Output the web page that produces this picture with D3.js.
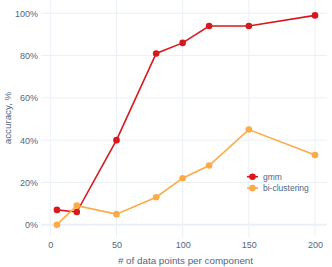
<!DOCTYPE html>
<html><head><meta charset="utf-8">
<script src="https://cdn.jsdelivr.net/npm/d3@7"></script>
<style>body{margin:0;background:#fff}svg{display:block}text{font-family:"Liberation Sans",Arial,sans-serif}</style>
</head><body><div id="c"></div>
<script>
const xValues = [5, 20, 50, 80, 100, 120, 150, 200];
const gmm = [7, 6, 40, 81, 86, 94, 94, 99];
const biClustering = [0, 9, 5, 13, 22, 28, 45, 33];
const seriesNames = ["gmm", "bi-clustering"];
const xTicks = [0, 50, 100, 150, 200];
const yTicks = [0, 20, 40, 60, 80, 100];

(function () {
const W = 332, H = 267;
const pLeft = 41, pRight = 327, pTop = 0, pBottom = 237;
const font = '"Liberation Sans",Arial,sans-serif';
const svg = d3.select("#c").append("svg").attr("width", W).attr("height", H);
const x = d3.scaleLinear().domain([0, 200]).range([50.3, 315]);
const y = d3.scaleLinear().domain([0, 100]).range([224.7, 13.3]);
const grid = "#ebf0f8", txt = "#506784";

svg.append("g").selectAll("line").data(xTicks).join("line")
  .attr("x1", d => x(d)).attr("x2", d => x(d)).attr("y1", pTop).attr("y2", pBottom)
  .attr("stroke", grid).attr("stroke-width", 1);
svg.append("g").selectAll("line").data(yTicks).join("line")
  .attr("x1", pLeft).attr("x2", pRight).attr("y1", d => y(d)).attr("y2", d => y(d))
  .attr("stroke", grid).attr("stroke-width", d => d === 0 ? 2 : 1);

const yAxis = svg.append("g").attr("transform", `translate(${pLeft - 1},0)`)
  .call(d3.axisLeft(y).tickValues(yTicks).tickSize(0).tickPadding(2).tickFormat(d => d + "%"));
const xAxis = svg.append("g").attr("transform", `translate(0,${pBottom})`)
  .call(d3.axisBottom(x).tickValues(xTicks).tickSize(0).tickPadding(5).tickFormat(d3.format("d")));
[yAxis, xAxis].forEach(a => {
  a.select(".domain").remove();
  a.selectAll("text").attr("fill", txt).style("font-size", "9px").style("font-family", font);
});

svg.append("text").attr("x", 185.5).attr("y", 264).attr("text-anchor", "middle")
  .attr("fill", txt).style("font-size", "9.8px").text("# of data points per component");
svg.append("text").attr("transform", "translate(11,118) rotate(-90)").attr("text-anchor", "middle")
  .attr("fill", txt).style("font-size", "9.8px").text("accuracy, %");

const series = [
  {name: seriesNames[0], values: gmm, color: "#d7191c"},
  {name: seriesNames[1], values: biClustering, color: "#fdab47"}
];
const line = d3.line().x((d, i) => x(xValues[i])).y(d => y(d));
series.forEach(s => {
  const g = svg.append("g");
  g.append("path").attr("d", line(s.values)).attr("fill", "none")
    .attr("stroke", s.color).attr("stroke-width", 1.6);
  g.selectAll("circle").data(s.values).join("circle")
    .attr("cx", (d, i) => x(xValues[i])).attr("cy", d => y(d)).attr("r", 3.3)
    .attr("fill", s.color);
});

const lg = svg.append("g");
series.forEach((s, i) => {
  const yy = 176.7 + i * 11.4;
  lg.append("line").attr("x1", 247).attr("x2", 258).attr("y1", yy).attr("y2", yy)
    .attr("stroke", s.color).attr("stroke-width", 1.6);
  lg.append("circle").attr("cx", 252.5).attr("cy", yy).attr("r", 3.3).attr("fill", s.color);
  lg.append("text").attr("x", 263).attr("y", yy).attr("dy", "0.33em")
    .attr("fill", txt).style("font-size", "8.5px").text(s.name);
});
})();
</script></body></html>
